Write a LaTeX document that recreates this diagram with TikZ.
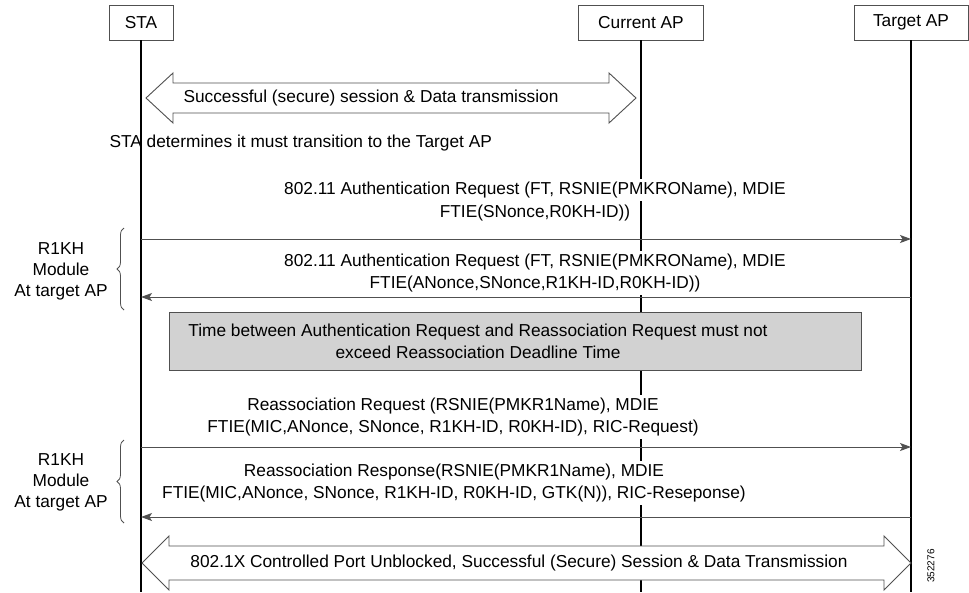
\documentclass[tikz,border=0pt]{standalone}
\usepackage{fontspec}
\setmainfont{Liberation Sans}
\usetikzlibrary{arrows.meta,decorations.pathreplacing}
\definecolor{edgegray}{HTML}{505050}
\definecolor{notefill}{HTML}{D2D2D2}
\begin{document}
\begin{tikzpicture}[x=1pt,y=-1pt,
  font=\fontsize{17.3}{22}\selectfont,
  actor/.style={draw=edgegray,line width=0.8pt,minimum height=35pt,inner sep=0pt},
  lifeline/.style={black,line width=1.4pt},
  msgline/.style={draw=edgegray,line width=0.9pt,-{Stealth[length=11pt,width=8pt,inset=2.5pt]}},
  lbl/.style={fill=white,inner xsep=1pt,inner ysep=2.5pt,text height=13pt,text depth=4pt},
  bigarrow/.style={draw=edgegray,line width=0.9pt,fill=white,line join=miter},
  bracket/.style={draw=edgegray,line width=0.8pt,decorate,decoration={brace,amplitude=7pt}},
  sidenote/.style={align=center,font=\fontsize{17.3}{21}\selectfont}]
\useasboundingbox (0,0) rectangle (969,592);

% participants
\node[actor,minimum width=64pt]  (sta) at (141,22.5) {STA};
\node[actor,minimum width=125pt] (cap) at (641,22.5) {Current AP};
\node[actor,minimum width=114pt] (tap) at (911,22.5) {Target AP};

\coordinate (staEnd) at (141,592);
\coordinate (capEnd) at (641,592);
\coordinate (tapEnd) at (911,592);

% lifelines
\draw[lifeline] (sta.south) -- (staEnd);
\draw[lifeline] (cap.south) -- (capEnd);
\draw[lifeline] (tap.south) -- (tapEnd);

% session before the transition
\draw[bigarrow] (146,98) -- (173,73) -- (173,83) -- (609,83) -- (609,73) -- (636,98)
  -- (609,123) -- (609,113) -- (173,113) -- (173,123) -- cycle;
\node[anchor=west] (sess1) at (180,98) {Successful (secure) session \& Data transmission};

\node[anchor=west] (decide) at (106,143) {STA determines it must transition to the Target AP};

% authentication request
\node[lbl] (m1a) at (535,190) {802.11 Authentication Request (FT, RSNIE(PMKROName), MDIE};
\node[lbl] (m1b) at (535,213) {FTIE(SNonce,R0KH-ID))};
\coordinate (a1s) at (141,239);
\coordinate (a1t) at (911,239);
\draw[msgline] (a1s) -- (a1t);

% authentication response
\node[lbl] (m2a) at (535,262) {802.11 Authentication Request (FT, RSNIE(PMKROName), MDIE};
\node[lbl] (m2b) at (535,284) {FTIE(ANonce,SNonce,R1KH-ID,R0KH-ID))};
\coordinate (a2s) at (911,297);
\coordinate (a2t) at (141,297);
\draw[msgline] (a2s) -- (a2t);

\draw[bracket] (124,310) -- (124,228);
\node[sidenote] (r1a) at (61,271) {R1KH\\Module\\At target AP};

% deadline note
\node[draw=edgegray,fill=notefill,line width=0.8pt,minimum width=692pt,minimum height=58pt,inner sep=0pt]
  (note) at (515,341) {};
\node[align=center] (notetext) at (478,341)
  {Time between Authentication Request and Reassociation Request must not\\exceed Reassociation Deadline Time};

% reassociation request
\node[lbl] (m3a) at (453,406) {Reassociation Request (RSNIE(PMKR1Name), MDIE};
\node[lbl] (m3b) at (453,428) {FTIE(MIC,ANonce, SNonce, R1KH-ID, R0KH-ID), RIC-Request)};
\coordinate (a3s) at (141,447);
\coordinate (a3t) at (911,447);
\draw[msgline] (a3s) -- (a3t);

% reassociation response
\node[lbl] (m4a) at (454,472) {Reassociation Response(RSNIE(PMKR1Name), MDIE};
\node[lbl] (m4b) at (454,494) {FTIE(MIC,ANonce, SNonce, R1KH-ID, R0KH-ID, GTK(N)), RIC-Reseponse)};
\coordinate (a4s) at (911,517);
\coordinate (a4t) at (141,517);
\draw[msgline] (a4s) -- (a4t);

\draw[bracket] (124,523) -- (124,440);
\node[sidenote] (r1b) at (61,482) {R1KH\\Module\\At target AP};

% session after the transition
\draw[bigarrow] (142,563) -- (169,536) -- (169,546) -- (884,546) -- (884,536) -- (911,563)
  -- (884,590) -- (884,580) -- (169,580) -- (169,590) -- cycle;
\node (sess2) at (519,563) {802.1X Controlled Port Unblocked, Successful (Secure) Session \& Data Transmission};

\node[rotate=90,font=\fontsize{10}{12}\selectfont] (figid) at (931,566) {352276};
\end{tikzpicture}
\end{document}
